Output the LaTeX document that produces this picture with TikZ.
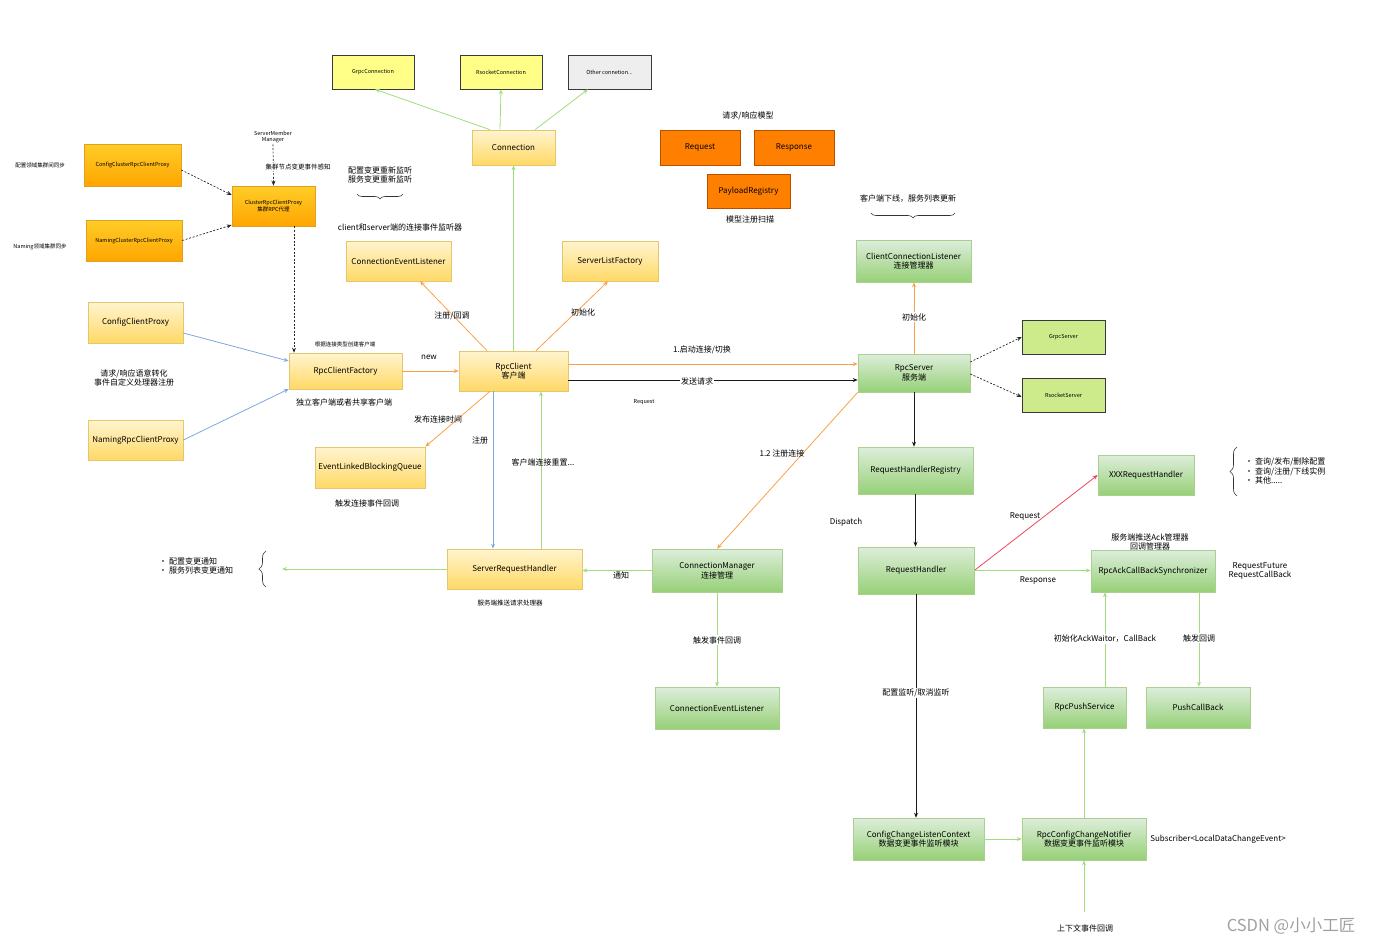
\documentclass[tikz,border=0pt]{standalone}
\usepackage{fontspec}
\setmainfont{Noto Sans CJK SC}
\usetikzlibrary{arrows.meta,decorations.pathreplacing}
\definecolor{ytop}{HTML}{FFF4CF}
\definecolor{ybot}{HTML}{FFD966}
\definecolor{yline}{HTML}{E3C66E}
\definecolor{otop}{HTML}{FFCD28}
\definecolor{obot}{HTML}{FFA500}
\definecolor{oline}{HTML}{E0A020}
\definecolor{gtop}{HTML}{DDEEDB}
\definecolor{gbot}{HTML}{97D077}
\definecolor{gline}{HTML}{A9D08E}
\definecolor{lyel}{HTML}{FFFF88}
\definecolor{lgray}{HTML}{EEEEEE}
\definecolor{dline}{HTML}{36393D}
\definecolor{oplain}{HTML}{FF8000}
\definecolor{oplainline}{HTML}{B85000}
\definecolor{lgreen}{HTML}{CDEB8B}
\definecolor{egreen}{HTML}{A3DC7E}
\definecolor{eorange}{HTML}{F9A049}
\definecolor{eblue}{HTML}{7EA6E0}
\definecolor{ered}{HTML}{F0455A}
\definecolor{wm}{HTML}{A0A0A0}
\newcommand\fsn{\fontsize{8}{9.6}\selectfont}
\newcommand\fsm{\fontsize{6.5}{7.8}\selectfont}
\newcommand\fst{\fontsize{5.5}{6.6}\selectfont}
\newcommand\mkbox[7]{\node[#2, minimum width={(#5)-(#3)}, minimum height={(#6)-(#4)}] (#1) at ({((#3)+(#5))/2},{((#4)+(#6))/2}) {#7};}
\begin{document}
\begin{tikzpicture}[x=1pt,y=-1pt,font=\fsn,
  boxbase/.style={draw, line width=0.6pt, inner sep=1pt, align=center, text=black},
  ygrad/.style={boxbase, draw=yline, top color=ytop, bottom color=ybot},
  ograd/.style={boxbase, draw=oline, top color=otop, bottom color=obot, font=\fst},
  ggrad/.style={boxbase, draw=gline, top color=gtop, bottom color=gbot},
  lyelbox/.style={boxbase, draw=dline, fill=lyel, font=\fst},
  lgraybox/.style={boxbase, draw=dline, fill=lgray, font=\fst},
  oplainbox/.style={boxbase, draw=oplainline, fill=oplain},
  lgreenbox/.style={boxbase, draw=dline, fill=lgreen, font=\fst},
  tip/.style={-{Stealth[length=5pt,width=4pt]}},
  garr/.style={tip, draw=egreen, line width=0.8pt},
  oarr/.style={tip, draw=eorange, line width=0.8pt},
  barr/.style={tip, draw=eblue, line width=0.8pt},
  rarr/.style={tip, draw=ered, line width=0.8pt},
  karr/.style={tip, draw=black!90, line width=0.7pt},
  dsh/.style={tip, draw=black!85, line width=0.7pt, dash pattern=on 2pt off 1.6pt},
  lbl/.style={inner sep=1pt, align=center, text=black},
  elbl/.style={lbl, fill=white},
  brc/.style={decorate, draw=black!80, line width=0.6pt}]
\useasboundingbox (0,0) rectangle (1375,945);

% ---------- boxes ----------
\mkbox{grpcc}{lyelbox}{332}{55}{414}{89}{GrpcConnection}
\mkbox{rsockc}{lyelbox}{460}{55}{542}{89}{RsocketConnection}
\mkbox{otherc}{lgraybox}{568}{55}{651}{89}{Other connetion...}
\mkbox{conn}{ygrad}{472}{130}{555}{165}{Connection}
\mkbox{req}{oplainbox}{660}{130}{740}{165}{Request}
\mkbox{resp}{oplainbox}{754}{130}{834}{165}{Response}
\mkbox{payload}{oplainbox}{707}{174}{790}{208}{PayloadRegistry}
\mkbox{cfgcl}{ograd}{84}{144}{181}{186}{ConfigClusterRpcClientProxy}
\mkbox{nmcl}{ograd}{86}{220}{182}{261}{NamingClusterRpcClientProxy}
\mkbox{cl}{ograd}{232}{186}{315}{226}{ClusterRpcClientProxy\\集群RPC代理}
\mkbox{ccp}{ygrad}{88}{302}{183}{343}{ConfigClientProxy}
\mkbox{nrcp}{ygrad}{88}{420}{183}{460}{NamingRpcClientProxy}
\mkbox{rcf}{ygrad}{289}{353}{402}{389}{RpcClientFactory}
\mkbox{rpcc}{ygrad}{459}{351}{568}{391}{RpcClient\\客户端}
\mkbox{cel}{ygrad}{346}{241}{451}{281}{ConnectionEventListener}
\mkbox{slf}{ygrad}{562}{241}{658}{281}{ServerListFactory}
\mkbox{elbq}{ygrad}{315}{447}{425}{488}{EventLinkedBlockingQueue}
\mkbox{srh}{ygrad}{447}{549}{582}{589}{ServerRequestHandler}
\mkbox{ccl}{ggrad}{856}{240}{971}{282}{ClientConnectionListener\\连接管理器}
\mkbox{rpcs}{ggrad}{858}{354}{970}{392}{RpcServer\\服务端}
\mkbox{grpcs}{lgreenbox}{1022}{320}{1105}{354}{GrpcServer}
\mkbox{rsocks}{lgreenbox}{1022}{378}{1105}{412}{RsocketServer}
\mkbox{rhr}{ggrad}{858}{447}{973}{494}{RequestHandlerRegistry}
\mkbox{rh}{ggrad}{858}{547}{974}{594}{RequestHandler}
\mkbox{xxx}{ggrad}{1098}{455}{1194}{495}{XXXRequestHandler}
\mkbox{rack}{ggrad}{1091}{550}{1215}{592}{RpcAckCallBackSynchronizer}
\mkbox{cm}{ggrad}{652}{549}{782}{592}{ConnectionManager\\连接管理}
\mkbox{cel2}{ggrad}{655}{687}{779}{729}{ConnectionEventListener}
\mkbox{rps}{ggrad}{1043}{687}{1126}{728}{RpcPushService}
\mkbox{pcb}{ggrad}{1146}{687}{1250}{728}{PushCallBack}
\mkbox{cclc}{ggrad}{853}{818}{984}{860}{ConfigChangeListenContext\\数据变更事件监听模块}
\mkbox{rccn}{ggrad}{1022}{818}{1146}{860}{RpcConfigChangeNotifier\\数据变更事件监听模块}

% ---------- free texts ----------
\node[lbl] (tmodel) at (748,116) {请求/响应模型};
\node[lbl] (tscan) at (750,219) {模型注册扫描};
\node[lbl,font=\fst] (tcfgsync) at (40,165) {配置领域集群间同步};
\node[lbl,font=\fst] (tnmsync) at (40,247) {Naming领域集群同步};
\node[lbl,font=\fst] (smm) at (273,137) {ServerMember\\Manager};
\node[lbl] (trelisten) at (380,175) {配置变更重新监听\\服务变更重新监听};
\node[lbl] (tcsl) at (400,227) {client和server端的连接事件监听器};
\node[lbl] (tsem) at (134,378) {请求/响应语意转化\\事件自定义处理器注册};
\node[lbl,font=\fst] (tbytype) at (345,344) {根据连接类型创建客户端};
\node[lbl] (tindep) at (344,402) {独立客户端或者共享客户端};
\node[lbl] (ttrig) at (367,503) {触发连接事件回调};
\node[lbl,font=\fsm] (tpush) at (510,603) {服务端推送请求处理器};
\node[lbl] (toffline) at (908,199) {客户端下线，服务列表更新};
\node[lbl] (tack) at (1150,542) {服务端推送Ack管理器\\回调管理器};
\node[lbl] (tfut) at (1260,571) {RequestFuture\\RequestCallBack};
\node[lbl] (tsub) at (1218,839) {Subscriber<LocalDataChangeEvent>};
\node[lbl,align=left,anchor=west] (tnotify) at (158,566) {\makebox[10pt][l]{•}配置变更通知\\\makebox[10pt][l]{•}服务列表变更通知};
\node[lbl,align=left,anchor=west] (tops) at (1244,471) {\makebox[10pt][l]{•}查询/发布/删除配置\\\makebox[10pt][l]{•}查询/注册/下线实例\\\makebox[10pt][l]{•}其他.....};
\node[lbl] (tctx) at (1085,928) {上下文事件回调};
\node[text=wm, font=\fontsize{16.5}{19}\selectfont, inner sep=0pt] (wmark) at (1291,926) {CSDN @小小工匠};

% ---------- braces ----------
\draw[brc, decoration={brace, amplitude=5pt}] (403,194) -- (357,194);
\draw[brc, decoration={brace, amplitude=5pt}] (955,213) -- (871,213);
\draw[brc, decoration={brace, amplitude=7pt}] (266,587) -- (266,551);
\draw[brc, decoration={brace, amplitude=7pt}] (1237,496) -- (1237,447);

% ---------- coordinates ----------
\coordinate (c1) at ([xshift=20.5pt]cl.south);
\coordinate (c2) at ([xshift=-20.5pt]rpcc.south);
\coordinate (c3) at ([xshift=26.5pt]srh.north);
\coordinate (c4) at ([yshift=7pt]rpcc.east);
\coordinate (c5) at ([yshift=-9pt]rpcc.east);
\coordinate (c6) at ([xshift=20.5pt]rps.north);
\coordinate (c7) at ([xshift=46pt]rack.south);
\coordinate (srhout) at (282,569);
\coordinate (ctxsrc) at (1084,912);

% ---------- connectors ----------
\draw[garr] ([xshift=-23.5pt]conn.north) -- ([xshift=2pt]grpcc.south);
\draw[garr] ([xshift=-13.5pt]conn.north) -- (rsockc.south);
\draw[garr] ([xshift=21.5pt]conn.north) -- ([xshift=-21.5pt]otherc.south);
\draw[dsh] ([yshift=-5pt]cfgcl.east) -- ([yshift=11pt]cl.west);
\draw[dsh] (nmcl.east) -- ([yshift=-19pt]cl.west);
\draw[dsh] (smm.south) -- (cl.north);
\draw[dsh] (c1) -- (c1 |- rcf.north);
\draw[barr] ([yshift=-10.5pt]ccp.east) -- ([yshift=10pt]rcf.west);
\draw[barr] (nrcp.east) -- ([yshift=-18pt]rcf.west);
\draw[oarr] (rcf.east) -- (rpcc.west);
\draw[oarr] ([xshift=-26.5pt]rpcc.north) -- ([xshift=21.5pt]cel.south);
\draw[oarr] ([xshift=22.5pt]rpcc.north) -- ([xshift=-2pt]slf.south);
\draw[garr] (rpcc.north) -- (conn.south);
\draw[oarr] ([xshift=-23.5pt]rpcc.south) -- (elbq.north east);
\draw[barr] (c2) -- (c2 |- srh.north);
\draw[garr] (c3) -- (c3 |- rpcc.south);
\draw[oarr] (c4) -- (c4 -| rpcs.west);
\draw[karr] (c5) -- (c5 -| rpcs.west);
\draw[oarr] (rpcs.north) -- (rpcs.north |- ccl.south);
\draw[dsh] ([yshift=11pt]rpcs.east) -- (grpcs.west);
\draw[dsh] ([yshift=-1pt]rpcs.east) -- ([yshift=-2pt]rsocks.west);
\draw[karr] (rpcs.south) -- (rpcs.south |- rhr.north);
\draw[oarr] (rpcs.south west) -- (cm.north);
\draw[karr] (rhr.south) -- (rhr.south |- rh.north);
\draw[rarr] (rh.east) -- (xxx.west);
\draw[garr] (rh.east) -- (rh.east -| rack.west);
\draw[karr] (rh.south) -- (rh.south |- cclc.north);
\draw[garr] (cclc.east) -- (rccn.west);
\draw[garr] (rccn.north) -- (rccn.north |- rps.south);
\draw[garr] (ctxsrc) -- (rccn.south);
\draw[garr] (c6) -- (c6 |- rack.south);
\draw[garr] (c7) -- (c7 |- pcb.north);
\draw[garr] (cm.west) -- (cm.west -| srh.east);
\draw[garr] (srh.west) -- (srhout);
\draw[garr] (cm.south) -- (cm.south |- cel2.north);

% ---------- connector labels ----------
\node[elbl,font=\fsm] (lsense) at (298,167) {集群节点变更事件感知};
\node[lbl] (lnew) at (429,357) {new};
\node[lbl] (lreg) at (452,316) {注册/回调};
\node[lbl] (linit) at (583,312) {初始化};
\node[lbl] (lpub) at (438,419) {发布连接时间};
\node[lbl] (lreg2) at (480,440) {注册};
\node[lbl] (lreset) at (543,462) {客户端连接重置...};
\node[lbl] (lstart) at (702,350) {1.启动连接/切换};
\node[elbl] (lsend) at (697,381) {发送请求};
\node[lbl,font=\fst] (lreqs) at (644,402) {Request};
\node[lbl] (lreg12) at (782,453) {1.2 注册连接};
\node[elbl] (linit2) at (914,317) {初始化};
\node[lbl] (ldisp) at (846,522) {Dispatch};
\node[lbl] (lreq2) at (1025,516) {Request};
\node[lbl] (lresp) at (1038,580) {Response};
\node[lbl] (lntf) at (621,575) {通知};
\node[elbl] (ltrig) at (717,640) {触发事件回调};
\node[elbl] (lackw) at (1105,639) {初始化AckWaitor，CallBack};
\node[elbl] (lcb) at (1199,638) {触发回调};
\node[elbl] (llisten) at (916,693) {配置监听/取消监听};
\end{tikzpicture}
\end{document}
